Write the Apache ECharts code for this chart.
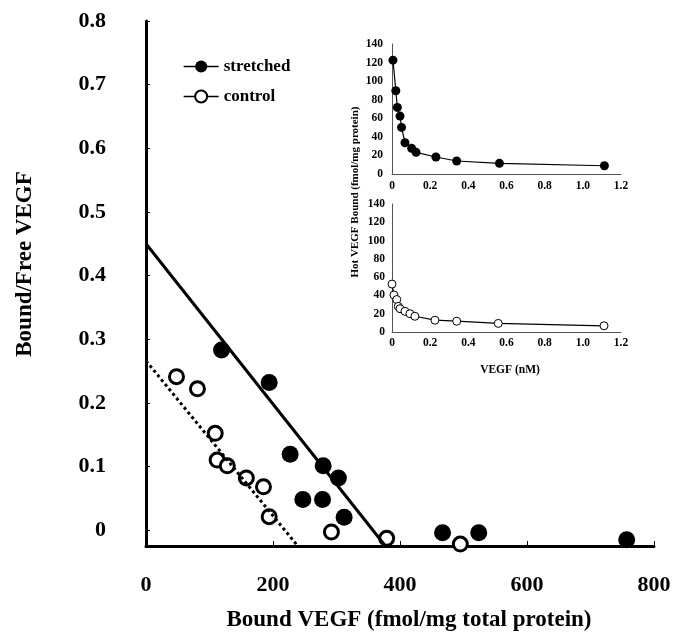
<!DOCTYPE html>
<html><head><meta charset="utf-8">
<script src="https://cdn.jsdelivr.net/npm/echarts@6/dist/echarts.min.js"></script>
<style>html,body{margin:0;padding:0;background:#fff}#c{width:682px;height:634px}</style>
</head><body><div id="c"></div>
<script>
// Main Scatchard plot data: [Bound VEGF, Bound/Free]
var stretchedMain = [[119,0.283],[194,0.232],[227,0.119],[279,0.101],[303,0.082],[247,0.048],[278,0.048],[312,0.020],[467,-0.004],[524,-0.004],[757,-0.015]];
var controlMain = [[48,0.241],[81,0.222],[109,0.152],[112,0.110],[128,0.101],[158,0.082],[185,0.068],[194,0.021],[292,-0.003],[379,-0.013],[495,-0.022]];
var stretchedFit = [[0,0.450],[377,-0.025]];
var controlFit = [[0,0.266],[239,-0.025]];
// Inset saturation data: [VEGF nM, Hot VEGF bound]
var stretchedInset = [[0.005,122.6],[0.02,89.6],[0.028,71.7],[0.042,62.4],[0.05,50.2],[0.068,33.7],[0.103,27.6],[0.126,23.3],[0.23,18.3],[0.339,14],[0.563,11.5],[1.113,8.9]];
var controlInset = [[0.0,52.4],[0.01,40.5],[0.025,35.5],[0.033,28],[0.042,25.5],[0.068,22.6],[0.094,20],[0.12,17.2],[0.225,12.9],[0.339,11.8],[0.557,9.4],[1.111,6.8]];
var seriesNames = ['stretched','control'];
var mainXTicks = [0,200,400,600,800];
var insetXTicks = [0,0.2,0.4,0.6,0.8,1.0,1.2];

var F = 'Liberation Serif, Times New Roman, serif';
var chart = echarts.init(document.getElementById('c'), null, {renderer:'canvas'});
function lab(size){return {fontFamily:F,fontWeight:'bold',fontSize:size,color:'#000'};}
var insetAxisLine = {lineStyle:{color:'#555',width:1}};
chart.setOption({
  animation:false,
  backgroundColor:'#fff',
  grid:[
    {left:146,right:28,top:21,bottom:88},
    {left:392,right:61,top:44,bottom:460},
    {left:392,right:61,top:204,bottom:302}
  ],
  xAxis:[
    {gridIndex:0,type:'value',min:mainXTicks[0],max:mainXTicks[mainXTicks.length-1],interval:200,
     axisLine:{onZero:false,lineStyle:{color:'#000',width:3}},
     axisTick:{inside:true,length:5,lineStyle:{color:'#000',width:1}},
     axisLabel:Object.assign(lab(22),{margin:28}),splitLine:{show:false}},
    {gridIndex:1,type:'value',min:insetXTicks[0],max:insetXTicks[insetXTicks.length-1],interval:0.2,axisLine:Object.assign({onZero:false},insetAxisLine),
     axisTick:{show:false},axisLabel:Object.assign(lab(11.5),{margin:6,formatter:function(v){return v===0?'0':v.toFixed(1);}}),splitLine:{show:false}},
    {gridIndex:2,type:'value',min:insetXTicks[0],max:insetXTicks[insetXTicks.length-1],interval:0.2,axisLine:Object.assign({onZero:false},insetAxisLine),
     axisTick:{show:false},axisLabel:Object.assign(lab(11.5),{margin:5,formatter:function(v){return v===0?'0':v.toFixed(1);}}),splitLine:{show:false}}
  ],
  yAxis:[
    {gridIndex:0,type:'value',min:-0.025,max:0.8,splitNumber:8,
     axisLine:{onZero:false,lineStyle:{color:'#000',width:3}},
     axisTick:{inside:true,length:4,lineStyle:{color:'#000',width:1}},
     axisLabel:Object.assign(lab(22),{margin:40,showMinLabel:false,formatter:function(v){return Math.abs(v)<1e-9?'0':v.toFixed(1);}}),
     splitLine:{show:false}},
    {gridIndex:1,type:'value',min:0,max:140,interval:20,axisLine:Object.assign({onZero:false},insetAxisLine),
     axisTick:{show:false},axisLabel:Object.assign(lab(11.5),{margin:9}),splitLine:{show:false}},
    {gridIndex:2,type:'value',min:0,max:140,interval:20,axisLine:Object.assign({onZero:false},insetAxisLine),
     axisTick:{show:false},axisLabel:Object.assign(lab(11.5),{margin:7}),splitLine:{show:false}}
  ],
  legend:{data:seriesNames,left:183,top:58,padding:0,orient:'vertical',itemWidth:35,itemHeight:15,itemGap:13,
    textStyle:lab(17),lineStyle:{color:'#000',width:1.3}},
  graphic:[
    {type:'text',style:{text:'Bound VEGF (fmol/mg total protein)',font:'bold 23px '+F,fill:'#000',textAlign:'center',textVerticalAlign:'middle'},x:409,y:620},
    {type:'text',style:{text:'Bound/Free VEGF',font:'bold 23px '+F,fill:'#000',textAlign:'center',textVerticalAlign:'middle'},x:25,y:264,rotation:Math.PI/2},
    {type:'text',style:{text:'Hot VEGF Bound (fmol/mg protein)',font:'bold 11px '+F,fill:'#000',textAlign:'center',textVerticalAlign:'middle'},x:355,y:192,rotation:Math.PI/2},
    {type:'text',style:{text:'VEGF (nM)',font:'bold 11.5px '+F,fill:'#000',textAlign:'center',textVerticalAlign:'middle'},x:510,y:370}
  ],
  series:[
    {name:seriesNames[0],type:'line',xAxisIndex:1,yAxisIndex:1,data:stretchedInset,symbol:'circle',symbolSize:9,
     itemStyle:{color:'#000',opacity:1},lineStyle:{color:'#000',width:1.2}},
    {name:seriesNames[1],type:'line',xAxisIndex:2,yAxisIndex:2,data:controlInset,symbol:'circle',symbolSize:8,
     itemStyle:{color:'#fff',borderColor:'#000',borderWidth:1,opacity:1},lineStyle:{color:'#000',width:1.2}},
    {name:'stretched fit',type:'line',xAxisIndex:0,yAxisIndex:0,data:stretchedFit,symbol:'none',lineStyle:{color:'#000',width:3}},
    {name:'control fit',type:'line',xAxisIndex:0,yAxisIndex:0,data:controlFit,symbol:'none',lineStyle:{color:'#000',width:3,type:[3,3],cap:'butt'}},
    {name:seriesNames[0],type:'scatter',xAxisIndex:0,yAxisIndex:0,data:stretchedMain,symbol:'circle',symbolSize:17,itemStyle:{color:'#000',opacity:1}},
    {name:seriesNames[1],type:'scatter',xAxisIndex:0,yAxisIndex:0,data:controlMain,symbol:'circle',symbolSize:14,
     itemStyle:{color:'#fff',borderColor:'#000',borderWidth:3,opacity:1}}
  ]
});
</script></body></html>
